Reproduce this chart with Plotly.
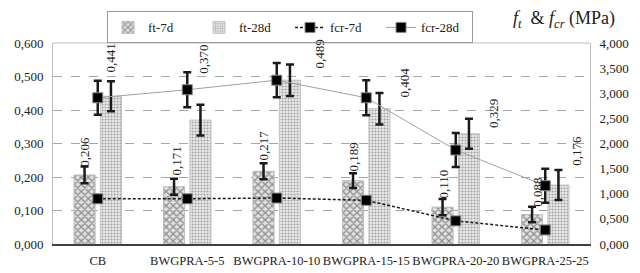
import plotly.graph_objects as go

categories = ["CB", "BWGPRA-5-5", "BWGPRA-10-10", "BWGPRA-15-15", "BWGPRA-20-20", "BWGPRA-25-25"]
ft_7d = [0.206, 0.171, 0.217, 0.189, 0.110, 0.088]
ft_7d_err = [0.025, 0.024, 0.024, 0.022, 0.024, 0.023]
ft_28d = [0.441, 0.370, 0.489, 0.404, 0.329, 0.176]
ft_28d_err = [0.045, 0.046, 0.047, 0.047, 0.045, 0.045]
fcr_7d = [0.90, 0.90, 0.915, 0.87, 0.46, 0.28]
fcr_28d = [2.91, 3.07, 3.26, 2.91, 1.87, 1.16]
fcr_28d_err = [0.34, 0.35, 0.34, 0.35, 0.34, 0.34]

left_ticks = [0.0, 0.1, 0.2, 0.3, 0.4, 0.5, 0.6]
right_ticks = [0.0, 0.5, 1.0, 1.5, 2.0, 2.5, 3.0, 3.5, 4.0]

FONT = "Liberation Serif, Times New Roman, serif"

def fmt(v):
    return f"{v:.3f}".replace(".", ",")

err_style = dict(type="data", color="#1a1a1a", thickness=2.5, width=4)

fig = go.Figure()
fig.add_trace(go.Bar(
    x=categories, y=ft_7d, name="ft-7d",
    marker=dict(color="#e0e0e0", line=dict(color="#bdbdbd", width=1),
                pattern=dict(shape="x", fgcolor="#3c3c3c", bgcolor="#e0e0e0", size=5, solidity=0.45)),
    error_y=dict(array=ft_7d_err, **err_style),
))
fig.add_trace(go.Bar(
    x=categories, y=ft_28d, name="ft-28d",
    marker=dict(color="#eaeaea", line=dict(color="#c4c4c4", width=1),
                pattern=dict(shape=".", fgcolor="#5a5a5a", bgcolor="#eaeaea", size=3, solidity=0.4)),
    error_y=dict(array=ft_28d_err, **err_style),
))
fig.add_trace(go.Scatter(
    x=categories, y=fcr_7d, name="fcr-7d", yaxis="y2", mode="lines+markers",
    line=dict(color="#1a1a1a", width=1.5, dash="3px,2px"),
    marker=dict(symbol="square", size=10, color="#000000", line=dict(color="#888888", width=1)),
))
fig.add_trace(go.Scatter(
    x=categories, y=fcr_28d, name="fcr-28d", yaxis="y2", mode="lines+markers",
    line=dict(color="#a0a0a0", width=1),
    marker=dict(symbol="square", size=10, color="#000000", line=dict(color="#888888", width=1)),
    error_y=dict(array=fcr_28d_err, **err_style),
))

# data labels
lbl7_dx = [-13, -11, -13, -13, -12.5, -8.5]
lbl7_dy = [7, 10, 9.5, 8, 7.5, 7]
lbl28_dx = [13, 16, 43, 38, 38, 30.5]
lbl28_dy = [23, 45, 11, 10.5, 5, 18]
annotations = []
for i, c in enumerate(categories):
    annotations.append(dict(x=c, y=ft_7d[i], xref="x", yref="y", text=fmt(ft_7d[i]),
                            textangle=-90, showarrow=False, yanchor="bottom", xanchor="center",
                            xshift=lbl7_dx[i], yshift=lbl7_dy[i], borderpad=0,
                            font=dict(family=FONT, size=13, color="#222222")))
    annotations.append(dict(x=c, y=ft_28d[i], xref="x", yref="y", text=fmt(ft_28d[i]),
                            textangle=-90, showarrow=False, yanchor="bottom", xanchor="center",
                            xshift=lbl28_dx[i], yshift=lbl28_dy[i], borderpad=0,
                            font=dict(family=FONT, size=13, color="#222222")))
annotations.append(dict(xref="paper", yref="paper", x=1.05, y=1.115, xanchor="right", yanchor="middle",
                        showarrow=False,
                        text="<i>f</i><sub><i>t</i></sub>  & <i>f</i><sub><i>cr</i></sub> (MPa)",
                        font=dict(family=FONT, size=18, color="#222222")))

# the page body adds an 8px offset, so the figure is sized to 632x265
fig.update_layout(
    width=632, height=265,
    margin=dict(l=45, r=50, t=34.5, b=28.5, autoexpand=False),
    paper_bgcolor="white", plot_bgcolor="white",
    separators=",.",
    barmode="group", bargap=0.41, bargroupgap=0.2,
    font=dict(family=FONT, size=13, color="#222222"),
    showlegend=True,
    legend=dict(orientation="h", x=0.1006, y=1.157, xanchor="left", yanchor="top",
                bordercolor="#9a9a9a", borderwidth=1, bgcolor="white",
                font=dict(family=FONT, size=13, color="#222222"),
                itemwidth=30, entrywidth=46, tracegroupgap=0),
    xaxis=dict(showline=True, linecolor="#404040", linewidth=2, ticks="", tickangle=0,
               showgrid=False, tickfont=dict(family=FONT, size=12.5), ticklabelstandoff=4),
    yaxis=dict(range=[0, 0.6], tickvals=left_ticks, tickformat=".3f",
               showgrid=True, gridcolor="#a6a6a6", griddash="dash", gridwidth=1,
               showline=True, linecolor="#bfbfbf", linewidth=1, ticks="",
               zeroline=False, ticklabelstandoff=6, tickfont=dict(family=FONT, size=13)),
    yaxis2=dict(range=[0, 4.0], tickvals=right_ticks, tickformat=".3f", overlaying="y",
                side="right", showgrid=False, zeroline=False, showline=True,
                linecolor="#bfbfbf", linewidth=1, ticks="", ticklabelstandoff=6,
                tickfont=dict(family=FONT, size=13)),
    annotations=annotations,
    shapes=[dict(type="line", xref="paper", yref="paper", x0=0, x1=1, y0=1, y1=1,
                 line=dict(color="#bfbfbf", width=1))],
)

fig.write_html("out.html")
